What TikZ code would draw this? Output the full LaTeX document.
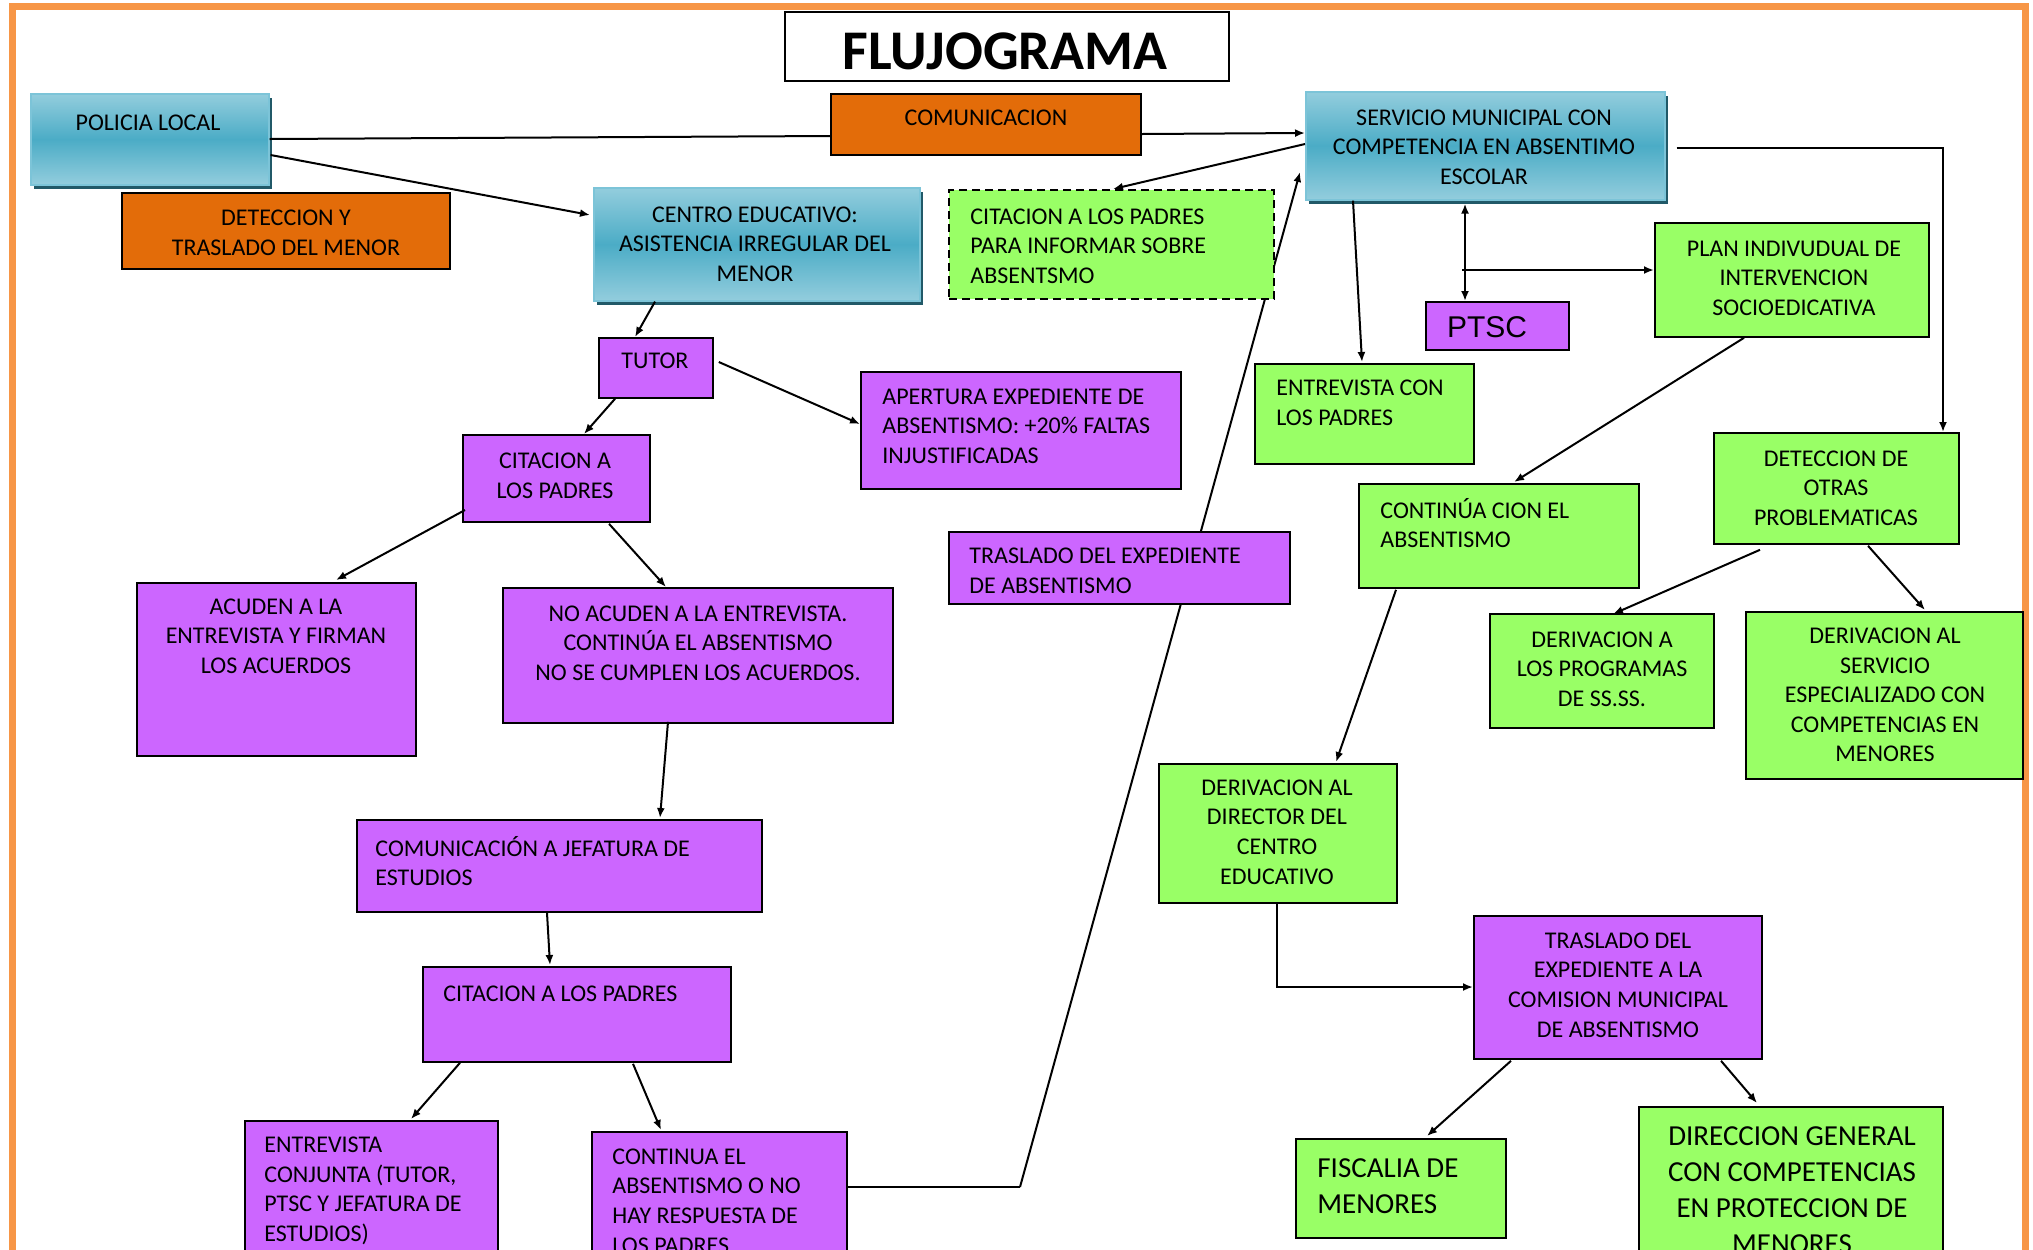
\documentclass[tikz,border=0pt]{standalone}
\usepackage{fontspec}
\setmainfont{Carlito}
\newfontfamily\arialf{Liberation Sans}
\usetikzlibrary{arrows.meta,calc,shadows,backgrounds}
\definecolor{Purp}{HTML}{CC66FF}
\definecolor{Grn}{HTML}{99FF66}
\definecolor{Org}{HTML}{E36C09}
\definecolor{BlueL}{HTML}{93CDDD}
\definecolor{BlueM}{HTML}{4BACC6}
\definecolor{BlueE}{HTML}{7CC4D8}
\definecolor{BlueS}{HTML}{215968}
\definecolor{Frame}{HTML}{F79646}
\newcommand\tf{\fontsize{12}{14.8}\selectfont}
\newcommand\tfb{\fontsize{14.5}{18}\selectfont}
\newcommand\bx[6]{\node[#1, minimum width={(#5-#3)*0.5pt}, minimum height={(#6-#4)*0.5pt}] (#2) at (#3,#4) {};}
\begin{document}
\begin{tikzpicture}[x=0.5pt,y=-0.5pt,
  bx/.style={draw=black, line width=0.9pt, inner sep=0pt, anchor=north west},
  pbox/.style={bx, fill=Purp},
  gbox/.style={bx, fill=Grn},
  obox/.style={bx, fill=Org},
  wbox/.style={bx, fill=white},
  cdash/.style={bx, fill=Grn, line width=1.2pt, dash pattern=on 4pt off 2.5pt},
  bbox/.style={draw=BlueE, line width=0.8pt, inner sep=0pt, anchor=north west,
    top color=BlueL, bottom color=BlueL, middle color=BlueM,
    general shadow={fill=BlueS, shadow xshift=1.5pt, shadow yshift=-2pt}},
  tc/.style={font=\tf, align=center, inner sep=0pt, anchor=center},
  tl/.style={font=\tf, align=left, inner sep=0pt, anchor=west},
  tcb/.style={font=\tfb, align=center, inner sep=0pt, anchor=center},
  tlb/.style={font=\tfb, align=left, inner sep=0pt, anchor=west},
  arr/.style={line width=1pt, -{Latex[length=5pt,width=4pt]}},
  darr/.style={line width=1pt, {Latex[length=5pt,width=4pt]}-{Latex[length=5pt,width=4pt]}},
  ln/.style={line width=1pt}]
\useasboundingbox (0,0) rectangle (2033,1249);
\draw[Frame, line width=3.5pt] (12.5,6.5) rectangle (2025.5,1320);

% title
\bx{wbox}{title}{784}{11}{1228}{80}
\node[font=\fontsize{28}{30}\selectfont\bfseries, inner sep=0pt] (title-t) at (1005,51) {FLUJOGRAMA};

% nodes
\bx{bbox}{pol}{30}{93}{268}{184}
\node[tc] (pol-t) at (148,123) {POLICIA LOCAL};
\bx{obox}{comm}{830}{93}{1140}{154}
\node[tc] (comm-t) at (986,118) {COMUNICACION};
\bx{obox}{det1}{121}{192}{449}{268}
\node[tc] (det1-t) at (286,233) {DETECCION Y\\TRASLADO DEL MENOR};
\bx{bbox}{cent}{593}{187}{919}{300}
\node[tc] (cent-t) at (755,244) {CENTRO EDUCATIVO:\\ASISTENCIA IRREGULAR DEL\\MENOR};
\bx{cdash}{cita}{948}{189}{1273}{298}
\node[tl] (cita-t) at (970,246) {CITACION A LOS PADRES\\PARA INFORMAR SOBRE\\ABSENTSMO};
\bx{bbox}{serv}{1305}{91}{1664}{199}
\node[tc] (serv-t) at (1484,147) {SERVICIO MUNICIPAL CON\\COMPETENCIA EN ABSENTIMO\\ESCOLAR};
\bx{pbox}{ptsc}{1425}{301}{1568}{349}
\node[font=\arialf\fontsize{15}{17}\selectfont, inner sep=0pt] (ptsc-t) at (1487,327) {PTSC};
\bx{gbox}{plan}{1654}{222}{1928}{336}
\node[tc] (plan-t) at (1794,278) {PLAN INDIVUDUAL DE\\INTERVENCION\\SOCIOEDICATIVA};
\bx{pbox}{tutor}{598}{337}{712}{397}
\node[tc] (tutor-t) at (655,361) {TUTOR};
\bx{pbox}{aper}{860}{371}{1180}{488}
\node[tl] (aper-t) at (882,426) {APERTURA EXPEDIENTE DE\\ABSENTISMO: +20\% FALTAS\\INJUSTIFICADAS};
\bx{pbox}{cit1}{462}{434}{649}{521}
\node[tc] (cit1-t) at (555,476) {CITACION A\\LOS PADRES};
\bx{pbox}{acud}{136}{582}{415}{755}
\node[tc] (acud-t) at (276,636) {ACUDEN A LA\\ENTREVISTA Y FIRMAN\\LOS ACUERDOS};
\bx{pbox}{noac}{502}{587}{892}{722}
\node[tc] (noac-t) at (698,643) {NO ACUDEN A LA ENTREVISTA.\\CONTINÚA EL ABSENTISMO\\NO SE CUMPLEN LOS ACUERDOS.};
\bx{pbox}{tras}{948}{531}{1289}{603}
\node[tl] (tras-t) at (969,571) {TRASLADO DEL EXPEDIENTE\\DE ABSENTISMO};
\bx{gbox}{entr}{1254}{363}{1473}{463}
\node[tl] (entr-t) at (1276,403) {ENTREVISTA CON\\LOS PADRES};
\bx{gbox}{cont1}{1358}{483}{1638}{587}
\node[tl] (cont1-t) at (1380,523) {CONTINÚA CION EL\\ABSENTISMO};
\bx{gbox}{det}{1713}{432}{1958}{543}
\node[tc] (det-t) at (1836,488) {DETECCION DE\\OTRAS\\PROBLEMATICAS};
\bx{gbox}{dera}{1489}{613}{1713}{727}
\node[tc] (dera-t) at (1602,669) {DERIVACION A\\LOS PROGRAMAS\\DE SS.SS.};
\bx{gbox}{ders}{1745}{611}{2022}{778}
\node[tc] (ders-t) at (1885,695) {DERIVACION AL\\SERVICIO\\ESPECIALIZADO CON\\COMPETENCIAS EN\\MENORES};
\bx{gbox}{dir}{1158}{763}{1396}{902}
\node[tc] (dir-t) at (1277,832) {DERIVACION AL\\DIRECTOR DEL\\CENTRO\\EDUCATIVO};
\bx{pbox}{com}{1473}{915}{1761}{1058}
\node[tc] (com-t) at (1618,985) {TRASLADO DEL\\EXPEDIENTE A LA\\COMISION MUNICIPAL\\DE ABSENTISMO};
\bx{gbox}{fis}{1295}{1138}{1505}{1237}
\node[tlb] (fis-t) at (1317,1186) {FISCALIA DE\\MENORES};
\bx{gbox}{dirg}{1638}{1106}{1942}{1300}
\node[tcb] (dirg-t) at (1792,1190) {DIRECCION GENERAL\\CON COMPETENCIAS\\EN PROTECCION DE\\MENORES};
\bx{pbox}{jef}{356}{819}{761}{911}
\node[tl] (jef-t) at (375,861) {COMUNICACIÓN A JEFATURA DE\\ESTUDIOS};
\bx{pbox}{cit2}{422}{966}{730}{1061}
\node[tl] (cit2-t) at (443,994) {CITACION A LOS PADRES};
\bx{pbox}{conj}{244}{1120}{497}{1300}
\node[tl] (conj-t) at (264,1191) {ENTREVISTA\\CONJUNTA (TUTOR,\\PTSC Y JEFATURA DE\\ESTUDIOS)};
\bx{pbox}{cont2}{591}{1131}{846}{1300}
\node[tl] (cont2-t) at (612,1201) {CONTINUA EL\\ABSENTISMO O NO\\HAY RESPUESTA DE\\LOS PADRES};

% connectors
\coordinate (kink) at (1020,1187);
\coordinate (pjoin) at (1462,270);
\begin{pgfonlayer}{background}
\draw[ln] ($(cont2.north east)+(0,56)$) -- (kink);
\draw[arr] (kink) -- ($(serv.north west)+(-5,81)$);
\end{pgfonlayer}
\draw[ln] ($(pol.north east)+(0,46)$) -- ($(comm.north west)+(0,43)$);
\draw[arr] ($(comm.north east)+(0,41)$) -- ($(serv.north west)+(0,42)$);
\draw[arr] ($(pol.north east)+(1,62)$) -- ($(cent.north west)+(-3,28)$);
\draw[arr] ($(serv.north west)+(0,53)$) -- ($(cita.north west)+(165,0)$);
\draw[arr] ($(cent.south west)+(62,0)$) -- ($(tutor.north west)+(37,0)$);
\draw[arr] ($(tutor.north east)+(5,25)$) -- ($(aper.north west)+(0,53)$);
\draw[arr] ($(tutor.south west)+(17,0)$) -- ($(cit1.north west)+(122,0)$);
\draw[arr] ($(cit1.north west)+(3,76)$) -- ($(acud.north west)+(200,-2)$);
\draw[arr] ($(cit1.south west)+(147,1)$) -- ($(noac.north west)+(164,0)$);
\draw[arr] ($(noac.south west)+(166,-2)$) -- ($(jef.north west)+(304,-1)$);
\draw[arr] ($(jef.south west)+(191,0)$) -- ($(cit2.north west)+(128,-1)$);
\draw[arr] ($(cit2.south west)+(38,0)$) -- ($(conj.north west)+(167,-1)$);
\draw[arr] ($(cit2.south west)+(211,1)$) -- ($(cont2.north west)+(70,-1)$);
\draw[arr] ($(serv.south west)+(48,0)$) -- ($(entr.north west)+(108,-1)$);
\draw[darr] ($(serv.south west)+(160,3)$) -- ($(ptsc.north west)+(40,0)$);
\draw[arr] (pjoin) -- ($(plan.north west)+(0,48)$);
\draw[arr] ($(plan.south west)+(90,0)$) -- ($(cont1.north west)+(156,-1)$);
\draw[arr] ($(serv.north east)+(11,57)$) -| ($(det.north west)+(230,0)$);
\draw[arr] ($(det.south west)+(47,5)$) -- ($(dera.north west)+(124,1)$);
\draw[arr] ($(det.south west)+(155,1)$) -- ($(ders.north west)+(180,-1)$);
\draw[arr] ($(cont1.south west)+(38,1)$) -- ($(dir.north west)+(178,-1)$);
\draw[arr] ($(dir.south west)+(119,0)$) |- ($(com.north west)+(0,72)$);
\draw[arr] ($(com.south west)+(38,1)$) -- ($(fis.north west)+(132,-2)$);
\draw[arr] ($(com.south west)+(248,1)$) -- ($(dirg.north west)+(119,-3)$);
\end{tikzpicture}
\end{document}
